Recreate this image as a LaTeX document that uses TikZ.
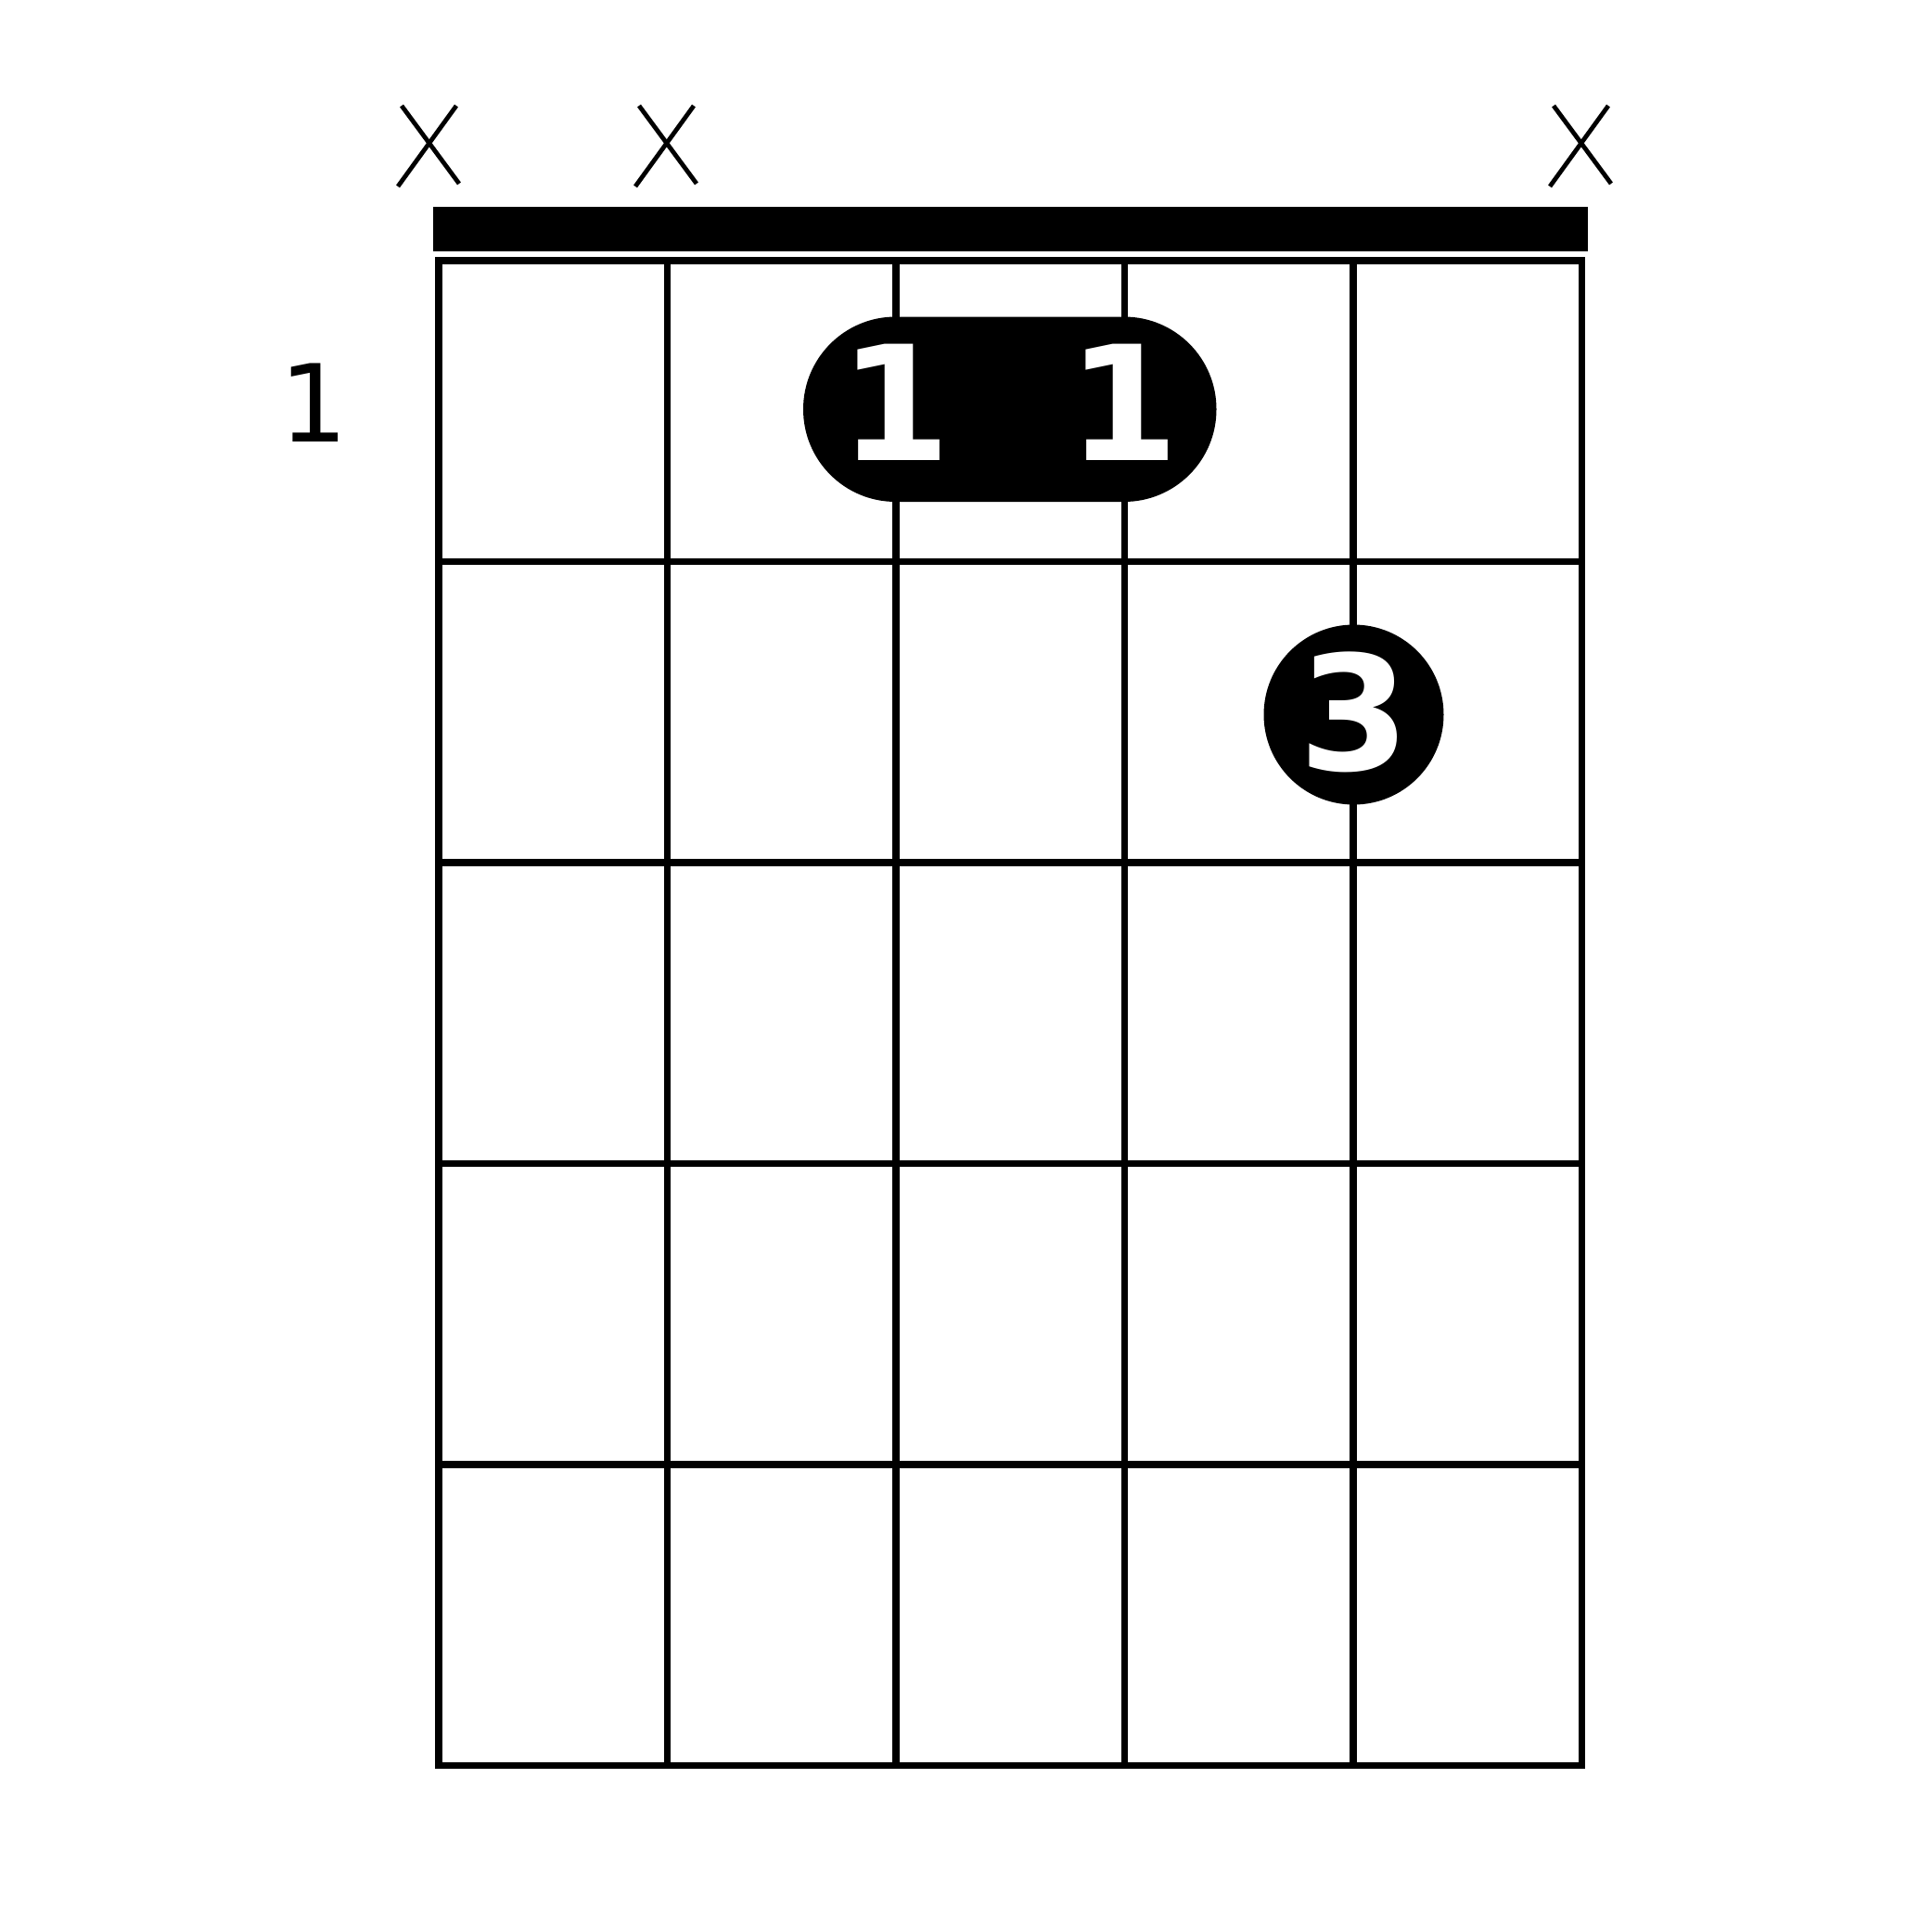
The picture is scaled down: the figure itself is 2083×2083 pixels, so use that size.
\documentclass[tikz,border=0pt]{standalone}
\usepackage{fontspec}
\setmainfont{DejaVu Sans}
\begin{document}
\begin{tikzpicture}[x=0.5pt,y=-0.5pt,
  gridline/.style={line width=3.85pt},
  mute/.style={line width=2.4pt},
  finger/.style={text=white,inner sep=0pt,font=\fontsize{86pt}{86pt}\selectfont\bfseries},
  fretnum/.style={inner sep=0pt,font=\fontsize{58pt}{58pt}\selectfont}]
\useasboundingbox (0,0) rectangle (2083,2083);
% nut
\fill (466.7,223.3) rectangle (1712.3,271);
% grid
\draw[gridline] (473,281) rectangle (1705.5,1903.6);
\foreach \x in {719.5,966,1212.5,1459}
  \draw[gridline] (\x,281) -- (\x,1903.6);
\foreach \y in {605.5,930,1254.5,1579}
  \draw[gridline] (473,\y) -- (1705.5,\y);
% muted strings
\foreach \c in {463,719,1705}{
  \draw[mute] (\c-30,114) -- (\c+32,198);
  \draw[mute] (\c+29,114) -- (\c-34,201);
}
% barre
\fill[rounded corners=49.8pt] (866,341.5) rectangle (1311.5,541);
\node[finger] (b1) at (965,434) {1};
\node[finger] (b2) at (1211,434) {1};
% finger 3
\fill (1459.5,770.5) circle[radius=48.5pt];
\node[finger] (f3) at (1460,767.5) {3};
% fret number
\node[fretnum] (fn) at (338,434) {1};
\end{tikzpicture}
\end{document}
